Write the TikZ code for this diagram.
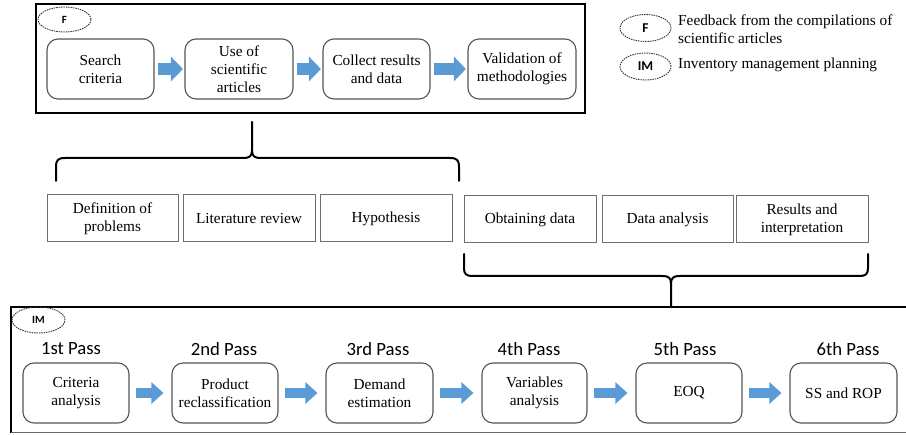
\documentclass[tikz,border=0pt]{standalone}
\usepackage{fontspec}
\setmainfont{Liberation Serif}
\newfontfamily\passfont{Carlito}
\usetikzlibrary{arrows.meta,shapes.geometric}

\definecolor{flowblue}{HTML}{5B9BD5}
\definecolor{boxgray}{HTML}{555555}
\definecolor{cellgray}{HTML}{6E6E6E}

\tikzset{
  roundbox/.style={draw=boxgray, line width=1.1pt, rounded corners=11pt,
    align=center, inner sep=2pt, font=\fontsize{15.3}{18}\selectfont},
  cellbox/.style={draw=cellgray, line width=1pt, align=center, inner sep=2pt,
    font=\fontsize{15.3}{18}\selectfont},
  frame/.style={draw=black, line width=2.4pt},
  tag/.style={draw=black!80, dash pattern=on 1.5pt off 0.9pt, line width=0.9pt,
    ellipse, inner sep=0pt, font=\passfont\bfseries\fontsize{11}{12}\selectfont},
  legendtag/.style={tag, font=\passfont\bfseries\fontsize{13.5}{14}\selectfont},
  passlabel/.style={font=\passfont\fontsize{18.7}{20}\selectfont, inner sep=0pt},
  legendtext/.style={align=left, anchor=west, inner sep=0pt,
    font=\fontsize{15.3}{18}\selectfont},
  bluearrow/.style={flowblue, line width=12pt,
    -{Triangle[length=12pt, width=24pt]}},
  bluearrowsmall/.style={flowblue, line width=10pt,
    -{Triangle[length=12pt, width=21pt]}},
  bracestyle/.style={draw=black, line width=2pt, line cap=round, line join=round},
}

\begin{document}
\begin{tikzpicture}[x=1pt, y=-1pt]
\useasboundingbox (0,0) rectangle (906,435);

% ---------- literature stage ----------
\draw[frame] (36,4) rectangle (585,113);
\node[tag, minimum width=53pt, minimum height=25pt] (tagF) at (64.5,19.5) {F};

\node[roundbox, minimum width=107pt, minimum height=60pt] (s1) at (100.5,69) {Search\\criteria};
\node[roundbox, minimum width=108pt, minimum height=60pt] (s2) at (239,69) {Use of\\scientific\\articles};
\node[roundbox, minimum width=107pt, minimum height=60pt] (s3) at (376.5,69) {Collect results\\and data};
\node[roundbox, minimum width=108pt, minimum height=60pt] (s4) at (522,69) {Validation of\\methodologies};

\draw[bluearrow] ([xshift=3pt]s1.east) -- ([xshift=-1.5pt]s2.west);
\draw[bluearrow] ([xshift=3pt]s2.east) -- ([xshift=-1.5pt]s3.west);
\draw[bluearrow] ([xshift=3pt]s3.east) -- ([xshift=-1.5pt]s4.west);

% ---------- legend ----------
\node[legendtag, minimum width=51pt, minimum height=27pt] (legF) at (645.5,28) {F};
\node[legendtext] (legFtext) at (678,29) {Feedback from the compilations of\\scientific articles};
\node[legendtag, minimum width=51pt, minimum height=27pt] (legIM) at (645.5,66.5) {IM};
\node[legendtext] (legIMtext) at (678,65) {Inventory management planning};

% ---------- research steps ----------
\node[cellbox, minimum width=131pt, minimum height=47pt] (c1) at (112.5,218.5) {Definition of\\problems};
\node[cellbox, minimum width=132pt, minimum height=47pt] (c2) at (249,218.5) {Literature review};
\node[cellbox, minimum width=132pt, minimum height=47pt] (c3) at (386,218.5) {Hypothesis};
\node[cellbox, minimum width=132pt, minimum height=47pt] (c4) at (530,219.5) {Obtaining data};
\node[cellbox, minimum width=131pt, minimum height=47pt] (c5) at (667.5,219.5) {Data analysis};
\node[cellbox, minimum width=132pt, minimum height=47pt] (c6) at (802,219.5) {Results and\\interpretation};

% upper brace
\draw[bracestyle] (56,181) -- (56,167) .. controls (56,160) and (58,158) .. (65,158)
  -- (243,158) .. controls (250,158) and (252,156) .. (252,150) -- (252,122);
\draw[bracestyle] (252,150) .. controls (252,156) and (254,158) .. (261,158)
  -- (450,158) .. controls (457,158) and (459,160) .. (459,167) -- (459,181);

% lower brace
\draw[bracestyle] (464,254) -- (464,268) .. controls (464,274) and (466,276) .. (473,276)
  -- (662,276) .. controls (669,276) and (671,278) .. (671,284) -- (671,307);
\draw[bracestyle] (671,284) .. controls (671,278) and (673,276) .. (680,276)
  -- (859,276) .. controls (866,276) and (868,274) .. (868,268) -- (868,254);

% ---------- inventory planning stage ----------
\draw[frame] (910,307) -- (11,307) -- (11,433);
\draw[draw=black!60, line width=1pt] (11,433) -- (910,433);
\node[tag, minimum width=53pt, minimum height=26pt] (tagIM) at (38.5,320) {IM};

\node[roundbox, minimum width=106pt, minimum height=60pt] (p1) at (76,393) {Criteria\\analysis};
\node[roundbox, minimum width=106pt, minimum height=60pt] (p2) at (225,393) {Product\\reclassification};
\node[roundbox, minimum width=107pt, minimum height=60pt] (p3) at (379.5,393) {Demand\\estimation};
\node[roundbox, minimum width=105pt, minimum height=60pt] (p4) at (534.5,393) {Variables\\analysis};
\node[roundbox, minimum width=106pt, minimum height=60pt] (p5) at (689,393) {EOQ};
\node[roundbox, minimum width=107pt, minimum height=60pt] (p6) at (843.5,393) {SS and ROP};

\node[passlabel] (l1) at (71,349) {1st Pass};
\node[passlabel] (l2) at (224,349) {2nd Pass};
\node[passlabel] (l3) at (378,349) {3rd Pass};
\node[passlabel] (l4) at (529,349) {4th Pass};
\node[passlabel] (l5) at (685,349) {5th Pass};
\node[passlabel] (l6) at (848,349) {6th Pass};

\draw[bluearrowsmall] ([xshift=6pt]p1.east) -- ([xshift=-8pt]p2.west);
\draw[bluearrowsmall] ([xshift=6pt]p2.east) -- ([xshift=-8pt]p3.west);
\draw[bluearrowsmall] ([xshift=6pt]p3.east) -- ([xshift=-8pt]p4.west);
\draw[bluearrowsmall] ([xshift=6pt]p4.east) -- ([xshift=-8pt]p5.west);
\draw[bluearrowsmall] ([xshift=6pt]p5.east) -- ([xshift=-8pt]p6.west);
\end{tikzpicture}
\end{document}
